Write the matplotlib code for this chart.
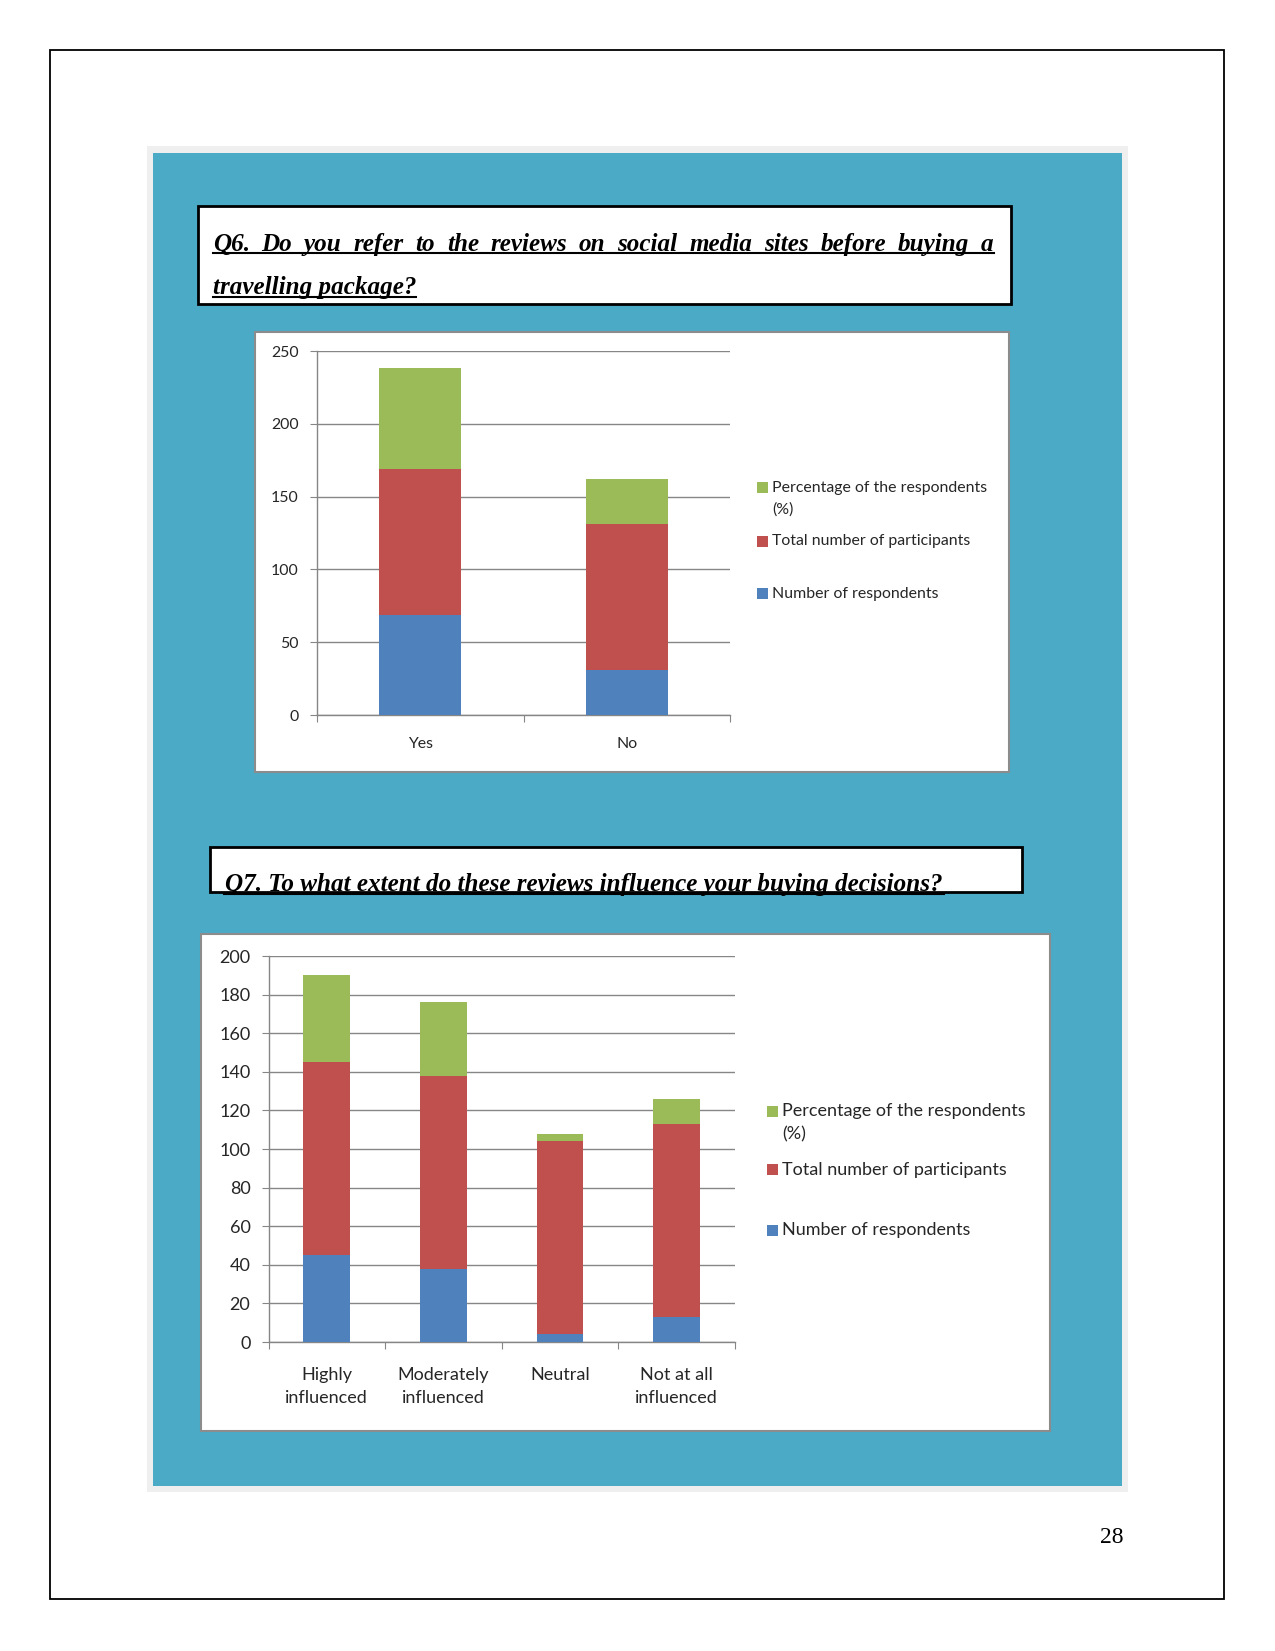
import matplotlib
matplotlib.use("Agg")
import matplotlib.pyplot as plt
from matplotlib.patches import Rectangle
from matplotlib.lines import Line2D
import numpy as np

# data
q6_categories = ['Yes', 'No']
q6_respondents = [69, 31]
q6_total = [100, 100]
q6_percentage = [69, 31]

q7_categories = ['Highly\ninfluenced', 'Moderately\ninfluenced', 'Neutral', 'Not at all\ninfluenced']
q7_respondents = [45, 38, 4, 13]
q7_total = [100, 100, 100, 100]
q7_percentage = [45, 38, 4, 13]

series_names = ['Number of respondents', 'Total number of participants',
                'Percentage of the respondents\n(%)']
series_colors = ['#4F81BD', '#C0504D', '#9BBB59']

q6_title = ['Q6. Do you refer to the reviews on social media sites before buying a',
            'travelling package?']
q7_title = 'Q7. To what extent do these reviews influence your buying decisions?'

W, H = 1275, 1651
fig = plt.figure(figsize=(W / 100, H / 100), dpi=100)
fig.patch.set_facecolor('white')
rend = fig.canvas.get_renderer()


def fx(x):
    return x / W


def fy(y):
    return 1 - y / H


def rect(x0, y0, x1, y1, **kw):
    fig.patches.append(Rectangle((fx(x0), fy(y1)), (x1 - x0) / W, (y1 - y0) / H,
                                 transform=fig.transFigure, **kw))


def hline(x0, x1, y, lw=1.5, color='black'):
    fig.lines.append(Line2D([fx(x0), fx(x1)], [fy(y), fy(y)], transform=fig.transFigure,
                            color=color, lw=lw, zorder=6))


def text_width(s, **kw):
    t = fig.text(0, 0, s, **kw)
    w = t.get_window_extent(renderer=rend).width
    t.remove()
    return w


# page frame, panel
rect(50, 50, 1224, 1599, facecolor='none', edgecolor='black', lw=1.3, zorder=0)
rect(146.5, 146.5, 1128, 1492, facecolor='#EFEFEF', edgecolor='none', zorder=0)
rect(153, 153, 1122, 1486, facecolor='#4BAAC6', edgecolor='none', zorder=0)
fig.text(fx(1112), fy(1543), '28', family='Liberation Serif', fontsize=17,
         ha='center', va='baseline')

# question boxes
title_font = dict(family='Liberation Serif', weight='bold', style='italic')
base_size = 20
natural = text_width(q7_title, fontsize=base_size, **title_font)
tsize = base_size * 718 / natural

rect(197.5, 206, 1010.5, 304, facecolor='white', edgecolor='black', lw=2, zorder=1)
# justified first line
words = q6_title[0].split(' ')
widths = [text_width(w, fontsize=tsize, **title_font) for w in words]
x_left, x_right = 212.7, 993.5
gap = (x_right - x_left - sum(widths)) / (len(words) - 1)
xpos = x_left
for w, wd in zip(words, widths):
    fig.text(fx(xpos), fy(250.7), w, fontsize=tsize, ha='left', va='baseline', **title_font)
    xpos += wd + gap
hline(x_left, x_right, 253.5)
w2 = text_width(q6_title[1], fontsize=tsize, **title_font)
fig.text(fx(x_left), fy(294), q6_title[1], fontsize=tsize, ha='left', va='baseline', **title_font)
hline(x_left, x_left + w2, 297.3)

rect(209.5, 846.5, 1022, 891.5, facecolor='white', edgecolor='black', lw=2, zorder=1)
fig.text(fx(225), fy(891), q7_title, fontsize=tsize, ha='left', va='baseline', zorder=7,
         **title_font)
hline(224, 944, 893.8)


def stacked_chart(panel, axbox, cats, layers, ymax, ystep, fs, legend_x, legend_rows,
                  tickpad, lsp):
    rect(*panel, facecolor='white', edgecolor='#8C8C8C', lw=1.5, zorder=1)
    l, t, r, b = axbox
    ax = fig.add_axes([fx(l), fy(b), (r - l) / W, (b - t) / H])
    ax.set_zorder(3)
    ax.set_facecolor('none')
    x = np.arange(len(cats))
    bottom = np.zeros(len(cats))
    for vals, col in zip(layers, series_colors):
        ax.bar(x, vals, width=0.4, bottom=bottom, color=col, zorder=3)
        bottom = bottom + np.array(vals)
    ax.set_xlim(-0.5, len(cats) - 0.5)
    ax.set_ylim(0, ymax)
    ax.set_yticks(np.arange(0, ymax + 1, ystep))
    ax.grid(axis='y', color='#868686', lw=1, zorder=0)
    ax.set_axisbelow(True)
    for s in ['top', 'right']:
        ax.spines[s].set_visible(False)
    for s in ['left', 'bottom']:
        ax.spines[s].set_color('#868686')
        ax.spines[s].set_linewidth(1)
    ax.set_xticks(np.arange(len(cats) + 1) - 0.5)
    ax.set_xticklabels([])
    ax.set_xticks(x, minor=True)
    ax.set_xticklabels(cats, minor=True, fontsize=fs, family='Lato', color='#262626',
                       linespacing=lsp)
    ax.tick_params(axis='x', which='major', length=5, color='#868686', direction='out')
    ax.tick_params(axis='x', which='minor', length=0, pad=tickpad)
    ax.tick_params(axis='y', length=5, color='#868686', direction='out', pad=8,
                   labelsize=fs, labelcolor='#262626')
    for lab in ax.get_yticklabels():
        lab.set_family('Lato')
    # legend, top to bottom as in the picture
    for name, col, (ty, ys) in zip(series_names[::-1], series_colors[::-1], legend_rows):
        rect(legend_x - 15, ty - 5.5, legend_x - 4, ty + 5.5, facecolor=col, edgecolor='none',
             zorder=2)
        lines = name.split('\n')
        for i, ln in enumerate(lines):
            fig.text(fx(legend_x), fy(ty + i * ys), ln, family='Lato', fontsize=fs,
                     color='#262626', ha='left', va='center')
    return ax


stacked_chart((255, 332.5, 1008.5, 771.5), (316.7, 351, 730.3, 715), q6_categories,
              [q6_respondents, q6_total, q6_percentage], 250, 50, 11.4, 772,
              [(488, 22), (541, 22), (594, 22)], 16, 1.35)
stacked_chart((200.5, 934, 1049.5, 1430.5), (268.5, 956, 735, 1342), q7_categories,
              [q7_respondents, q7_total, q7_percentage], 200, 20, 13, 782,
              [(1111, 23), (1170, 23), (1230, 23)], 18, 1.55)

fig.savefig('out.png', dpi=100, facecolor='white')
